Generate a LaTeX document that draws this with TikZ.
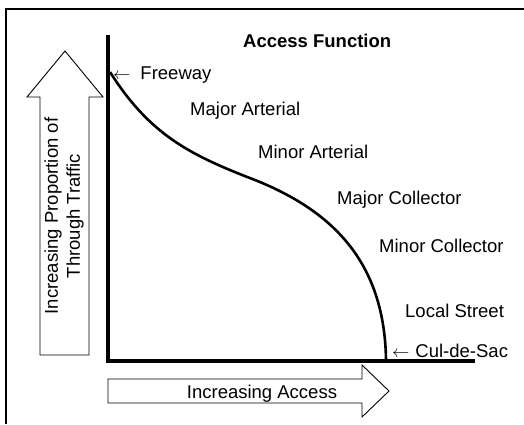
\documentclass[tikz,border=0pt]{standalone}
\usepackage{fontspec}
\setmainfont{Liberation Sans}

\begin{document}
\begin{tikzpicture}[x=1pt, y=-1pt,
    every node/.style={inner sep=0pt, font=\fontsize{18.5}{22}\selectfont},
    heading/.style={font=\fontsize{18.5}{22}\selectfont\bfseries},
    axis/.style={line width=4pt},
    curve/.style={line width=2.6pt},
    bigarrow/.style={line width=0.9pt, fill=white}]

    \useasboundingbox (0,0) rectangle (524,424);

    % cornice (solo sopra e a sinistra)
    \draw[line width=1.4pt] (6,424) -- (6,9) -- (524,9);

    % frecce grandi
    \draw[bigarrow] (40,355) -- (40,97) -- (27,97) -- (65,51) -- (103,97) -- (89,97) -- (89,355) -- cycle;
    \draw[bigarrow] (108,379) -- (362,379) -- (362,365) -- (389,391) -- (362,417) -- (362,403) -- (108,403) -- cycle;

    % assi
    \coordinate (ytop) at (108,35);
    \coordinate (origin) at (108,361);
    \coordinate (xend) at (475,361);
    \draw[axis] (ytop) -- (origin) -- (xend);

    % curva
    \coordinate (fw) at (110,72);
    \coordinate (mid) at (255,180);
    \coordinate (cds) at (386,361);
    \draw[curve] (fw) .. controls (150,135) and (190,155) .. (mid) .. controls (330,210) and (385,260) .. (cds);

    % etichette
    \node[heading, anchor=base west] (title) at (243,47) {Access Function};
    \node[anchor=base west] (freeway) at (113,79) {\(\leftarrow\)\hspace{10pt}Freeway};
    \node[anchor=base west] (majart) at (190,115) {Major Arterial};
    \node[anchor=base west] (minart) at (258,158) {Minor Arterial};
    \node[anchor=base west] (majcol) at (337,204) {Major Collector};
    \node[anchor=base west] (mincol) at (379,252) {Minor Collector};
    \node[anchor=base west] (local) at (405,317) {Local Street};
    \node[anchor=base west] (culdesac) at (392,357) {\(\leftarrow\)\hspace{6pt}Cul-de-Sac};
    \node[rotate=90, align=center] (through) at (64,216) {Increasing Proportion of\\Through Traffic};
    \node[anchor=base] (access) at (262,398) {Increasing Access};
\end{tikzpicture}
\end{document}
